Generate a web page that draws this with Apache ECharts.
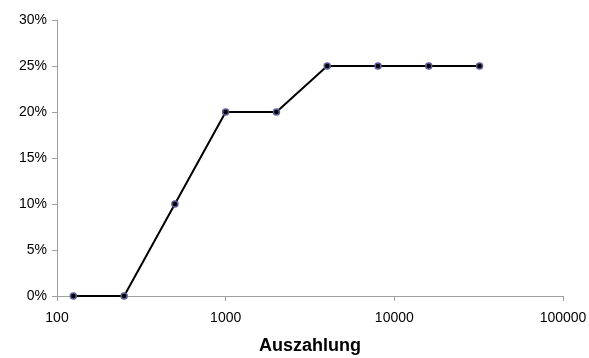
<!DOCTYPE html>
<html>
<head>
<meta charset="utf-8">
<script src="https://cdn.jsdelivr.net/npm/echarts@6/dist/echarts.min.js"></script>
<style>html,body{margin:0;padding:0;background:#fff}#chart{width:589px;height:358px}</style>
</head>
<body>
<div id="chart"></div>
<script>
var payouts = [125, 250, 500, 1000, 2000, 4000, 8000, 16000, 32000];
var shares = [0, 0, 10, 20, 20, 25, 25, 25, 25];
var xName = 'Auszahlung';

var chart = echarts.init(document.getElementById('chart'));
var points = payouts.map(function(v, i) { return [v, shares[i]]; });

var option = {
    animation: false,
    grid: { left: 57, right: 26, top: 20, bottom: 62, containLabel: false, outerBoundsMode: 'none' },
    xAxis: {
        type: 'log',
        logBase: 10,
        min: 100,
        max: 100000,
        name: xName,
        nameLocation: 'middle',
        nameGap: 41,
        nameTextStyle: { fontFamily: 'Liberation Sans', fontSize: 18, fontWeight: 'bold', color: '#000' },
        axisLine: { lineStyle: { color: '#a0a0a0', width: 1 } },
        axisTick: { show: true, inside: false, length: 5, lineStyle: { color: '#a0a0a0' } },
        minorTick: { show: false },
        splitLine: { show: false },
        axisLabel: {
            color: '#000', fontFamily: 'Liberation Sans', fontSize: 14, margin: 15,
            formatter: function(v) { return String(Math.round(v)); }
        }
    },
    yAxis: {
        type: 'value',
        min: 0,
        max: 30,
        interval: 5,
        axisLine: { show: true, lineStyle: { color: '#a0a0a0', width: 1 } },
        axisTick: { show: true, length: 5, lineStyle: { color: '#a0a0a0' } },
        splitLine: { show: false },
        axisLabel: { color: '#000', fontFamily: 'Liberation Sans', fontSize: 14, margin: 10, formatter: '{value}%' }
    },
    series: [{
        type: 'line',
        data: points,
        symbol: 'circle',
        symbolSize: 6,
        lineStyle: { color: '#000', width: 2 },
        itemStyle: { color: '#000', borderColor: '#5c5c9a', borderWidth: 1.5 }
    }]
};
chart.setOption(option);
window.addEventListener('resize', chart.resize);
</script>
</body>
</html>
